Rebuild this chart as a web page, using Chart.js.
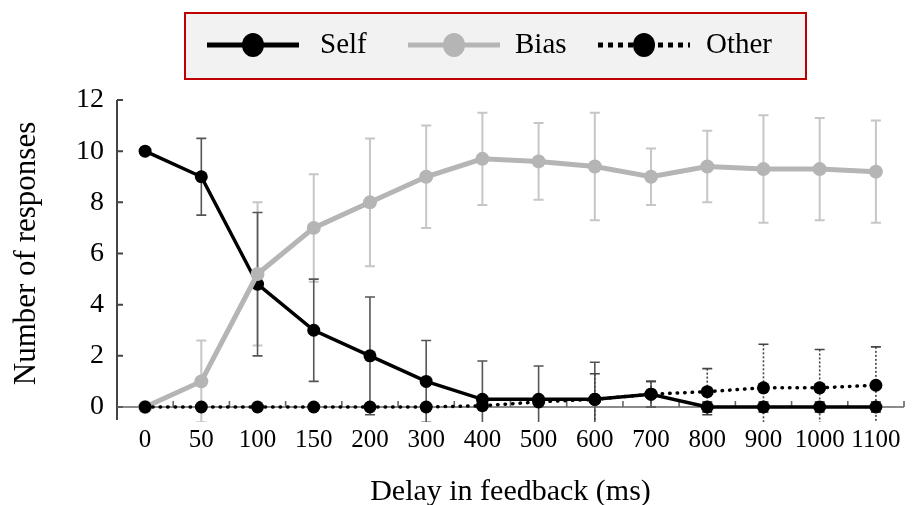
<!DOCTYPE html>
<html><head><meta charset="utf-8">
<script src="https://cdn.jsdelivr.net/npm/chart.js@4"></script>
<style>html,body{margin:0;padding:0;background:#fff}#wrap{width:920px;height:505px;position:relative}</style>
</head><body><div id="wrap"><canvas id="c" width="920" height="505"></canvas></div>
<script>
const categories = ['0','50','100','150','200','300','400','500','600','700','800','900','1000','1100'];
const selfValues  = [10, 9, 4.8, 3, 2, 1, 0.3, 0.3, 0.3, 0.5, 0, 0, 0, 0];
const selfErrors  = [0, 1.5, 2.8, 2.0, 2.3, 1.6, 1.5, 1.3, 1.45, 0.5, 0.2, 0.2, 0.2, 0.2];
const biasValues  = [0, 1.0, 5.2, 7.0, 8.0, 9.0, 9.7, 9.6, 9.4, 9.0, 9.4, 9.3, 9.3, 9.2];
const biasErrors  = [0, 1.6, 2.8, 2.1, 2.5, 2.0, 1.8, 1.5, 2.1, 1.1, 1.4, 2.1, 2.0, 2.0];
const otherValues = [0, 0, 0, 0, 0, 0, 0.05, 0.2, 0.3, 0.5, 0.6, 0.75, 0.75, 0.85];
const otherErrors = [0, 0, 0, 0, 0, 0, 0, 0, 1.0, 0.5, 0.9, 1.7, 1.5, 1.5];
const yTicks = [0, 2, 4, 6, 8, 10, 12];
const legendLabels = ['Self', 'Bias', 'Other'];

const FONT = 'Liberation Serif';
const BIAS_COLOR = '#b5b5b5';

const errorBarPlugin = {
  id: 'errorBars',
  beforeDatasetsDraw(chart) {
    const ctx = chart.ctx, xs = chart.scales.x, ys = chart.scales.y;
    const specs = [
      {values: biasValues, errors: biasErrors, color: '#c6c6c6', width: 2, dash: []},
      {values: selfValues, errors: selfErrors, color: '#555', width: 1.6, dash: []},
      {values: otherValues, errors: otherErrors, color: '#444', width: 1.6, dash: [2, 2]}
    ];
    ctx.save();
    ctx.beginPath();
    ctx.rect(0, 0, chart.width, ys.getPixelForValue(0) + 15);
    ctx.clip();
    specs.forEach(s => {
      s.values.forEach((v, i) => {
        const e = s.errors[i];
        if (!e) return;
        const px = xs.getPixelForValue(i);
        const top = ys.getPixelForValue(v + e);
        const bot = ys.getPixelForValue(v - e);
        ctx.strokeStyle = s.color;
        ctx.lineWidth = s.width;
        ctx.setLineDash(s.dash);
        ctx.beginPath();
        ctx.moveTo(px, top); ctx.lineTo(px, bot);
        ctx.stroke();
        ctx.setLineDash([]);
        ctx.beginPath();
        ctx.moveTo(px - 5, top); ctx.lineTo(px + 5, top);
        ctx.moveTo(px - 5, bot); ctx.lineTo(px + 5, bot);
        ctx.stroke();
      });
    });
    ctx.restore();
  }
};

const axesPlugin = {
  id: 'axesDraw',
  beforeDatasetsDraw(chart) {
    const ctx = chart.ctx, xs = chart.scales.x, ys = chart.scales.y;
    const a = chart.chartArea;
    ctx.save();
    ctx.strokeStyle = '#444';
    ctx.lineWidth = 2;
    ctx.beginPath();
    ctx.moveTo(a.left, a.top); ctx.lineTo(a.left, a.bottom + 13);
    ctx.stroke();
    ctx.beginPath();
    yTicks.forEach(t => {
      const py = ys.getPixelForValue(t);
      ctx.moveTo(a.left, py); ctx.lineTo(a.left + 6, py);
    });
    ctx.stroke();
    ctx.strokeStyle = '#666';
    ctx.lineWidth = 1.6;
    const y0 = ys.getPixelForValue(0);
    ctx.beginPath();
    ctx.moveTo(a.left, y0); ctx.lineTo(a.right, y0);
    const step = (a.right - a.left) / categories.length;
    for (let i = 1; i <= categories.length; i++) {
      const px = a.left + step * i;
      ctx.moveTo(px, y0); ctx.lineTo(px, y0 - 6);
    }
    ctx.stroke();
    ctx.restore();
  }
};

const legendPlugin = {
  id: 'boxLegend',
  afterDraw(chart) {
    const ctx = chart.ctx;
    ctx.save();
    ctx.fillStyle = '#f2f2f2';
    ctx.fillRect(185, 13, 621, 66);
    ctx.strokeStyle = '#c00000';
    ctx.lineWidth = 2;
    ctx.strokeRect(185, 13, 621, 66);
    const ly = 45;
    const items = [
      {x: 207, color: '#000', dash: [], text: legendLabels[0], tx: 320, pc: '#000'},
      {x: 408, color: BIAS_COLOR, dash: [], text: legendLabels[1], tx: 515, pc: BIAS_COLOR},
      {x: 598, color: '#000', dash: [5, 5], text: legendLabels[2], tx: 706, pc: '#000'}
    ];
    items.forEach(it => {
      ctx.strokeStyle = it.color;
      ctx.lineWidth = 5;
      ctx.setLineDash(it.dash);
      ctx.beginPath();
      ctx.moveTo(it.x, ly); ctx.lineTo(it.x + 92, ly);
      ctx.stroke();
      ctx.setLineDash([]);
      ctx.fillStyle = it.pc;
      ctx.beginPath();
      ctx.ellipse(it.x + 46, ly, 11, 12, 0, 0, Math.PI * 2);
      ctx.fill();
      ctx.fillStyle = '#000';
      ctx.font = '29px "' + FONT + '"';
      ctx.textBaseline = 'middle';
      ctx.textAlign = 'left';
      ctx.fillText(it.text, it.tx, ly);
    });
    ctx.restore();
  }
};

new Chart(document.getElementById('c'), {
  type: 'line',
  data: {
    labels: categories,
    datasets: [
      {label: legendLabels[0], data: selfValues, borderColor: '#000', backgroundColor: '#000',
       borderWidth: 3.5, pointRadius: 6.5, pointBackgroundColor: '#000', pointBorderWidth: 0, order: 2, clip: false},
      {label: legendLabels[1], data: biasValues, borderColor: BIAS_COLOR, backgroundColor: BIAS_COLOR,
       borderWidth: 5, pointRadius: 7, pointBackgroundColor: BIAS_COLOR, pointBorderWidth: 0, order: 1, clip: false},
      {label: legendLabels[2], data: otherValues, borderColor: '#000', backgroundColor: '#000',
       borderWidth: 3.5, borderDash: [0.5, 7], borderCapStyle: 'round', pointRadius: 6.5, pointBackgroundColor: '#000',
       pointBorderWidth: 0, order: 0, clip: false}
    ]
  },
  options: {
    responsive: false,
    animation: false,
    devicePixelRatio: 1,
    layout: {padding: {top: 100, right: 16, left: 0, bottom: 0}},
    plugins: {legend: {display: false}, tooltip: {enabled: false}},
    scales: {
      x: {
        offset: true,
        grid: {display: false},
        border: {display: false},
        ticks: {color: '#000', font: {family: FONT, size: 25}, padding: 10, maxRotation: 0, autoSkip: false},
        title: {display: true, text: 'Delay in feedback (ms)', color: '#000', font: {family: FONT, size: 30}, padding: {top: 0, bottom: -5}},
        afterFit(s) { s.height = 98; }
      },
      y: {
        min: 0, max: 12,
        grid: {display: false},
        border: {display: false},
        ticks: {stepSize: 2, color: '#000', font: {family: FONT, size: 28}, padding: 5},
        title: {display: true, text: 'Number of responses', color: '#000', font: {family: FONT, size: 31}, padding: {top: 8, bottom: 0}},
        afterFit(s) { s.width = 117; }
      }
    }
  },
  plugins: [errorBarPlugin, axesPlugin, legendPlugin]
});
</script></body></html>
